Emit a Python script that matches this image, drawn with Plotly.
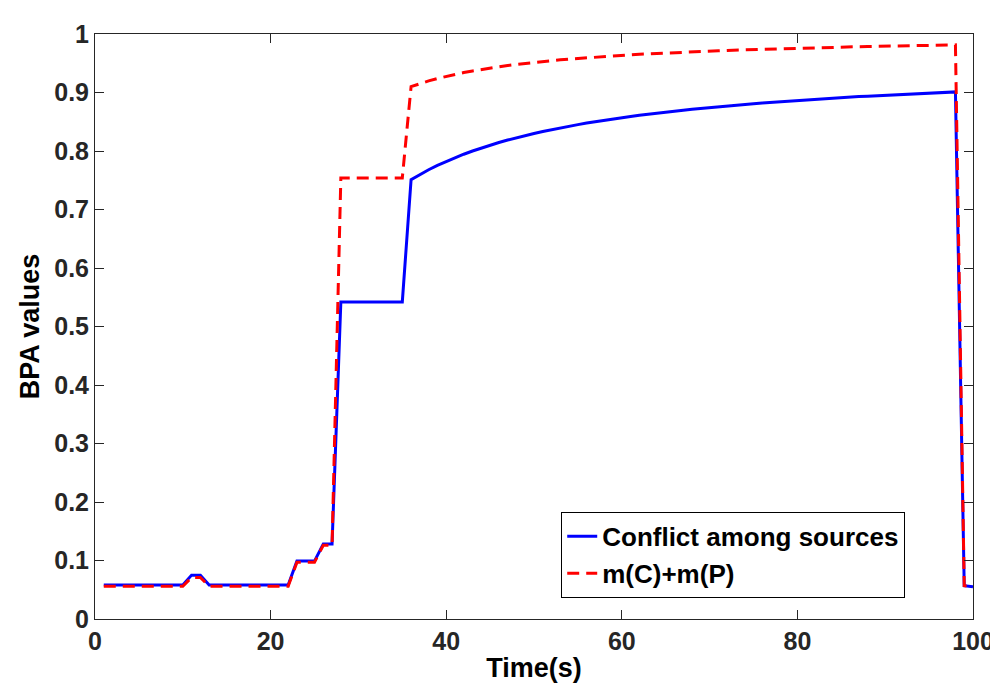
import plotly.graph_objects as go

time_s = list(range(1, 101))

conflict = (
    [0.058] * 10 +                      # t=1..10
    [0.075, 0.075] +                    # t=11,12
    [0.058] * 10 +                      # t=13..22
    [0.099, 0.099, 0.099] +             # t=23..25
    [0.128, 0.128] +                    # t=26,27
    [0.542] * 8 +                       # t=28..35
    [0.7510, 0.7598, 0.7679, 0.7754, 0.7822, 0.7886, 0.7945, 0.8000, 0.8052, 0.8100,  # t=36..45
     0.8145, 0.8187, 0.8227, 0.8264, 0.8300, 0.8333, 0.8365, 0.8395, 0.8424, 0.8451,  # t=46..55
     0.8477, 0.8502, 0.8526, 0.8548, 0.8570, 0.8591, 0.8610, 0.8630, 0.8648, 0.8665,  # t=56..65
     0.8682, 0.8698, 0.8714, 0.8729, 0.8744, 0.8758, 0.8771, 0.8784, 0.8797, 0.8809,  # t=66..75
     0.8821, 0.8832, 0.8844, 0.8854, 0.8865, 0.8875, 0.8885, 0.8894, 0.8903, 0.8912,  # t=76..85
     0.8921, 0.8930, 0.8938, 0.8946, 0.8954, 0.8961, 0.8969, 0.8976, 0.8983, 0.8990,  # t=86..95
     0.8997, 0.9004, 0.9010] +                                                          # t=96..98
    [0.057, 0.055]                      # t=99,100
)

mc_mp = (
    [0.056] * 10 +
    [0.071, 0.071] +
    [0.056] * 10 +
    [0.097, 0.097, 0.097] +
    [0.126, 0.126] +
    [0.754] * 8 +
    [0.9100, 0.9152, 0.9198, 0.9239, 0.9276, 0.9310, 0.9341, 0.9369, 0.9395, 0.9419,
     0.9441, 0.9461, 0.9480, 0.9498, 0.9514, 0.9530, 0.9545, 0.9558, 0.9571, 0.9583,
     0.9595, 0.9606, 0.9616, 0.9626, 0.9635, 0.9644, 0.9653, 0.9661, 0.9668, 0.9676,
     0.9683, 0.9690, 0.9696, 0.9702, 0.9708, 0.9714, 0.9720, 0.9725, 0.9730, 0.9735,
     0.9740, 0.9744, 0.9749, 0.9753, 0.9757, 0.9761, 0.9765, 0.9769, 0.9773, 0.9776,
     0.9780, 0.9783, 0.9786, 0.9789, 0.9792, 0.9795, 0.9798, 0.9801, 0.9804, 0.9807,
     0.9809, 0.9812, 0.9814] +
    [0.057, 0.055]
)

x_ticks = [0, 20, 40, 60, 80, 100]
y_ticks = [0, 0.1, 0.2, 0.3, 0.4, 0.5, 0.6, 0.7, 0.8, 0.9, 1]
y_tick_labels = ["0", "0.1", "0.2", "0.3", "0.4", "0.5", "0.6", "0.7", "0.8", "0.9", "1"]

FONT = "Liberation Sans, Arial, Helvetica, sans-serif"
AX = "#262626"

fig = go.Figure()
fig.add_trace(go.Scatter(
    x=time_s, y=conflict, mode="lines", name="<b>Conflict among sources</b>",
    line=dict(color="#0000FF", width=3),
))
fig.add_trace(go.Scatter(
    x=time_s, y=mc_mp, mode="lines", name="<b>m(C)+m(P)</b>",
    line=dict(color="#FF0000", width=3, dash="12px,7px"),
))

axis_common = dict(
    showline=True, linecolor=AX, linewidth=1, mirror="ticks",
    ticks="inside", ticklen=9, tickcolor=AX, tickwidth=1,
    showgrid=False, zeroline=False,
    tickfont=dict(family=FONT, size=25, color="#262626"),
)

fig.update_xaxes(
    range=[0, 100], tickvals=x_ticks,
    ticktext=[f"<b>{v}</b>" for v in x_ticks],
    title=dict(text="<b>Time(s)</b>", font=dict(family=FONT, size=27, color="black"), standoff=4),
    **axis_common,
)
fig.update_yaxes(
    range=[0, 1], tickvals=y_ticks,
    ticktext=[f"<b>{t}</b>" for t in y_tick_labels],
    title=dict(text="<b>BPA values</b>", font=dict(family=FONT, size=27, color="black"), standoff=6),
    **axis_common,
)

fig.update_layout(
    width=998, height=688,
    margin=dict(l=87, r=27, t=17, b=77),
    paper_bgcolor="white", plot_bgcolor="white",
    font=dict(family=FONT, color="black"),
    legend=dict(
        x=0.531, y=0.183, xanchor="left", yanchor="top",
        bordercolor="black", borderwidth=1, bgcolor="white",
        font=dict(family=FONT, size=26, color="black"),
        itemwidth=30, tracegroupgap=0,
    ),
    showlegend=True,
)

fig.write_html("out.html")
